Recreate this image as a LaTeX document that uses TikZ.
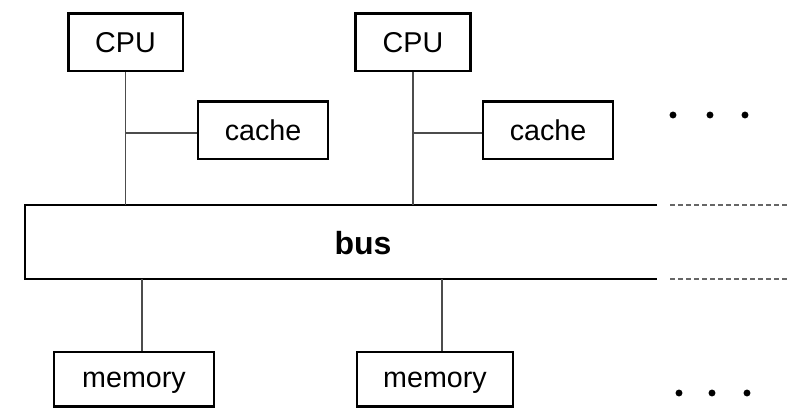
\documentclass[tikz,border=0pt]{standalone}
\usepackage{fontspec}
\setmainfont{Liberation Sans}
\begin{document}
\begin{tikzpicture}[x=0.75pt,y=-0.75pt,
                    box/.style = {draw=black,
                                line width=2pt,
                                inner sep=0pt,
                                minimum height=43pt,
                                font=\fontsize{21.5}{24}\selectfont},
                    wire/.style = {draw=black!70, line width=1.3pt},
                    busline/.style = {draw=black, line width=2pt},
                    more/.style = {draw=black!60, line width=1.1pt,
                                dash pattern=on 3.5pt off 2.5pt}]
                    \useasboundingbox (0,0) rectangle (794,409);
                    % CPUs
                    \node[box,minimum width=86pt] (cpuA) at (125.5,42.5) {CPU};
                    \node[box,minimum width=86pt] (cpuB) at (413,42.5) {CPU};
                    % Caches
                    \node[box,minimum width=97.5pt] (cacheA) at (263,130.5) {cache};
                    \node[box,minimum width=97.5pt] (cacheB) at (548,130.5) {cache};
                    % Memories
                    \node[box,minimum width=120pt,minimum height=41pt,text depth=0pt] (memA) at (134,379.5) {memory};
                    \node[box,minimum width=117pt,minimum height=41pt,text depth=0pt] (memB) at (435,379.5) {memory};
                    % Bus outline
                    \coordinate (busNE) at (657,205);
                    \coordinate (busNW) at (25,205);
                    \coordinate (busSW) at (25,279);
                    \coordinate (busSE) at (657,279);
                    \draw[busline] (busNE) -- (busNW) -- (busSW) -- (busSE);
                    \node[font=\bfseries\fontsize{24}{26}\selectfont] (bus) at (363,243) {bus};
                    % Bus continues
                    \coordinate (moreN) at (788,205);
                    \coordinate (moreS) at (788,279);
                    \draw[more] ([xshift=10pt]busNE) -- (moreN);
                    \draw[more] ([xshift=10pt]busSE) -- (moreS);
                    % CPU and cache to bus
                    \draw[wire] (cpuA.south) -- (cpuA.south |- busNW);
                    \draw[wire] (cpuB.south) -- (cpuB.south |- busNW);
                    \draw[wire] ([yshift=-2pt]cacheA.west) -- ([yshift=-2pt]cacheA.west -| cpuA.south);
                    \draw[wire] ([yshift=-2pt]cacheB.west) -- ([yshift=-2pt]cacheB.west -| cpuB.south);
                    % Memory to bus
                    \draw[wire] ([xshift=6pt]memA.north) -- ([xshift=6pt]memA.north |- busSW);
                    \draw[wire] ([xshift=5pt]memB.north) -- ([xshift=5pt]memB.north |- busSW);
                    % More processors and memories
                    \foreach \x in {673,710,745} \fill (\x,115) circle (2.6pt);
                    \foreach \x in {679,712,747} \fill (\x,393) circle (2.6pt);
                \end{tikzpicture}
\end{document}
